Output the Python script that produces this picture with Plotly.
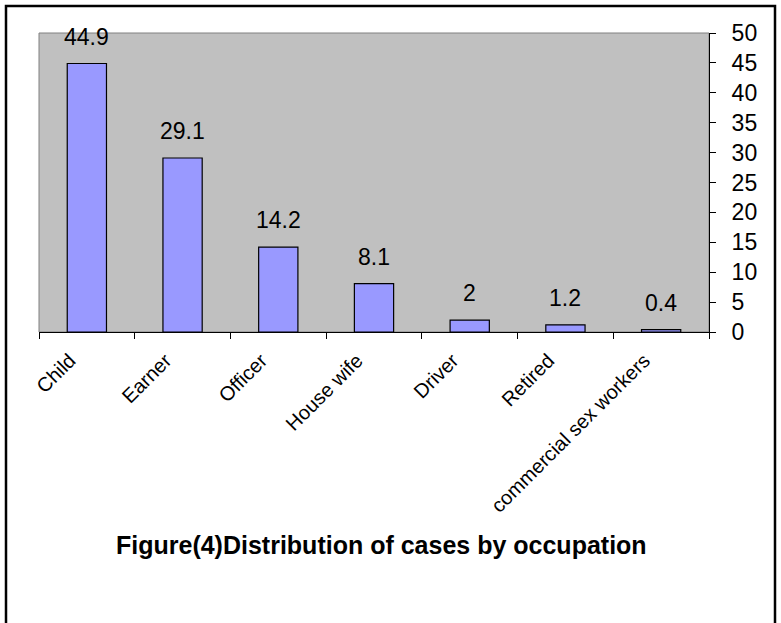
import plotly.graph_objects as go

categories = ["Child", "Earner", "Officer", "House wife", "Driver", "Retired", "commercial sex workers"]
values = [44.9, 29.1, 14.2, 8.1, 2, 1.2, 0.4]
value_labels = ["44.9", "29.1", "14.2", "8.1", "2", "1.2", "0.4"]
y_ticks = [0, 5, 10, 15, 20, 25, 30, 35, 40, 45, 50]
title_text = "Figure(4)Distribution of cases by occupation"

FONT = "Arial, Liberation Sans, sans-serif"

fig = go.Figure()
fig.add_trace(go.Bar(
    x=categories, y=values,
    marker=dict(color="#9999FF", line=dict(color="black", width=1.2)),
    hoverinfo="x+y",
))

annotations = [
    dict(x=c, y=v, xref="x", yref="y", text=t, showarrow=False,
         yanchor="bottom", yshift=12, font=dict(family=FONT, size=23, color="black"))
    for c, v, t in zip(categories, values, value_labels)
]

W, H = 781, 623
L, R, T, B = 39, 709, 33, 332
pw, ph = R - L, B - T

def px_x(px):
    return (px - L) / pw

def px_y(py):
    return (B - py) / ph

annotations.append(dict(
    x=px_x(381), y=px_y(545), xref="paper", yref="paper", text="<b>" + title_text + "</b>",
    showarrow=False, xanchor="center", yanchor="middle",
    font=dict(family=FONT, size=25, color="black")))

fig.update_layout(
    width=W, height=H,
    margin=dict(l=L, r=W - R, t=T, b=H - B, autoexpand=False),
    paper_bgcolor="white", plot_bgcolor="#C0C0C0",
    showlegend=False, bargap=0.59,
    annotations=annotations,
    shapes=[
        dict(type="rect", xref="paper", yref="paper", x0=0, x1=1, y0=0, y1=1,
             line=dict(color="#808080", width=1), layer="below"),
        dict(type="rect", xref="paper", yref="paper",
             x0=px_x(6), x1=px_x(775), y0=px_y(640), y1=px_y(6),
             line=dict(color="black", width=2.5), fillcolor="rgba(0,0,0,0)"),
    ],
    xaxis=dict(
        type="category", tickson="boundaries", ticks="outside", ticklen=6,
        tickcolor="black", showline=True, linecolor="black", linewidth=1,
        showgrid=False, tickangle=-45, ticklabelstandoff=8, ticklabelshift=-17,
        tickfont=dict(family=FONT, size=20, color="black"),
    ),
    yaxis=dict(
        side="right", range=[0, 50], tickvals=y_ticks, ticks="outside", ticklen=6,
        tickcolor="black", showline=True, linecolor="black", linewidth=1,
        showgrid=False, zeroline=False, ticklabelstandoff=11,
        tickfont=dict(family=FONT, size=23, color="black"),
    ),
)

fig.write_html(
    "out.html",
    config={"displayModeBar": False},
    post_script="document.body.style.margin='0';document.body.style.padding='0';"
                "document.body.style.overflow='hidden';",
)
